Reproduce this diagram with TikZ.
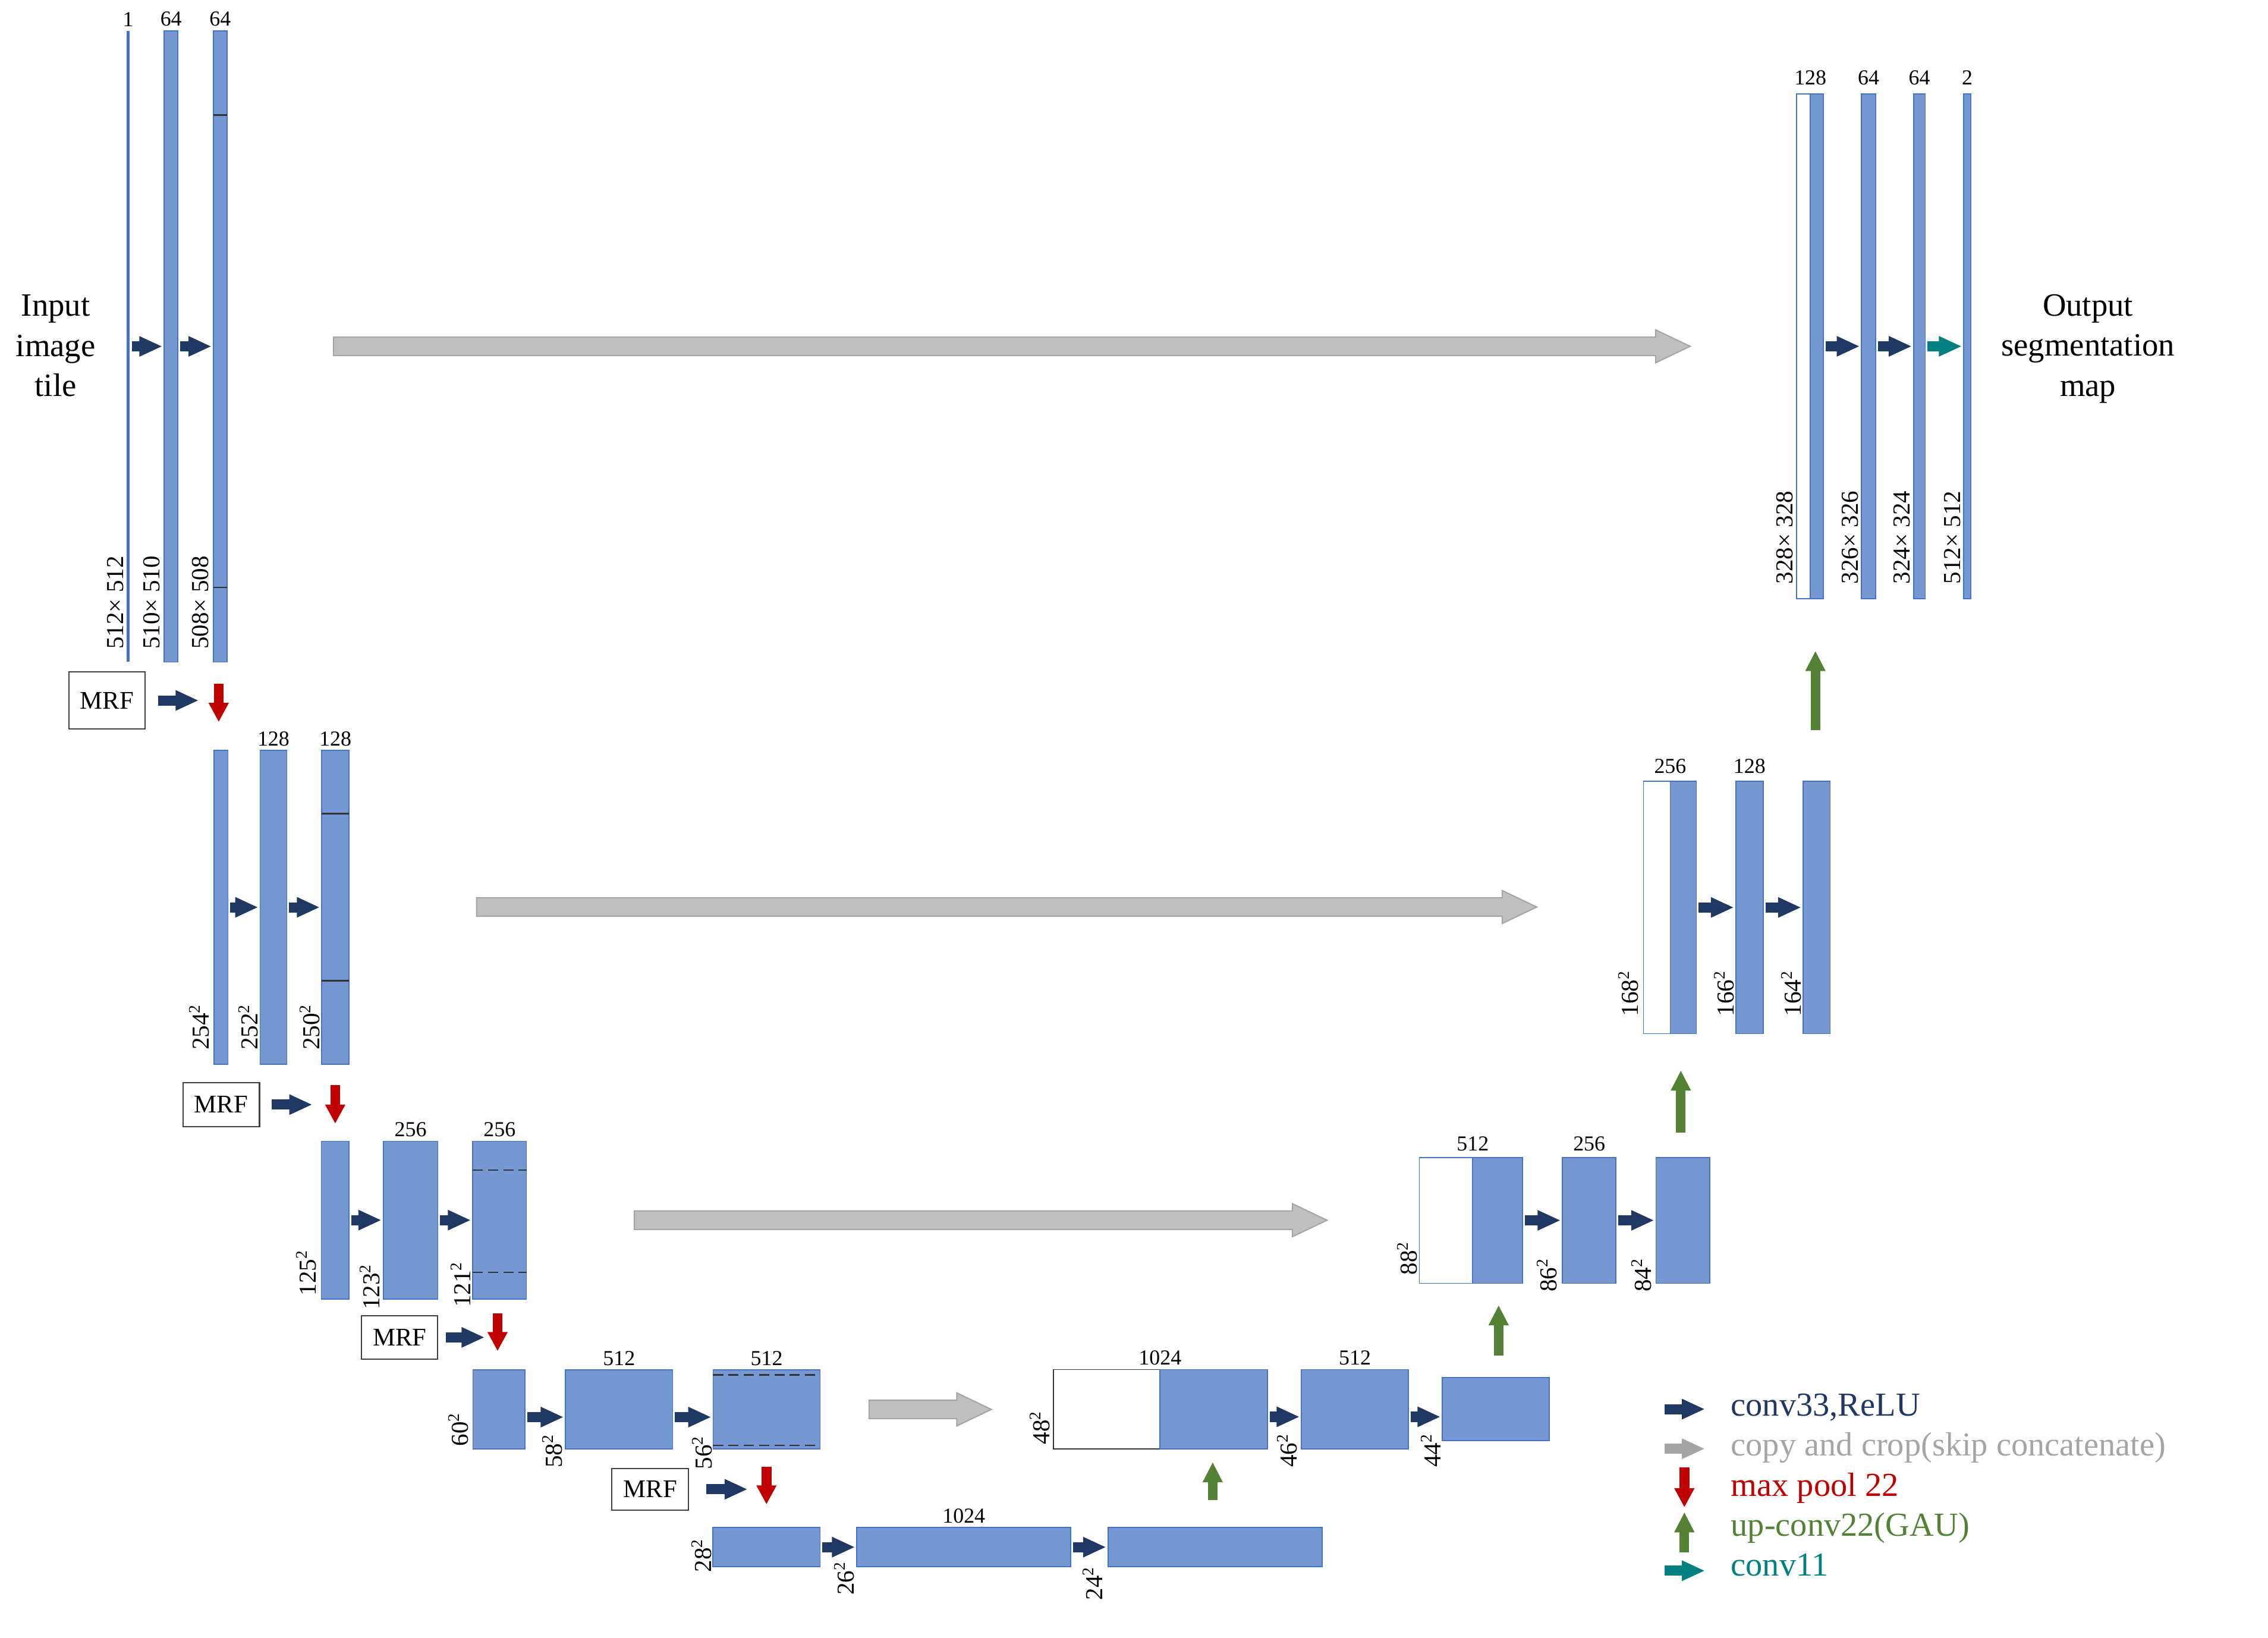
\documentclass[tikz,border=0pt]{standalone}
\usepackage{fontspec}
\setmainfont{Liberation Serif}
\usetikzlibrary{arrows.meta, fit, shapes.arrows, positioning}

\definecolor{barfill}{HTML}{7597D2}
\definecolor{barline}{HTML}{4472C4}
\definecolor{convblue}{HTML}{203864}
\definecolor{copyfill}{HTML}{BFBFBF}
\definecolor{copyline}{HTML}{A5A5A5}
\definecolor{poolred}{HTML}{C00000}
\definecolor{upgreen}{HTML}{548235}
\definecolor{convteal}{HTML}{008080}

\tikzset{
  fmap/.style={draw=barline, fill=barfill, line width=0.5pt, inner sep=0pt, outer sep=0pt},
  fcopy/.style={fmap, fill=white},
  inputline/.style={fill=barline, draw=none, inner sep=0pt, outer sep=0pt},
  mrfbox/.style={draw=black!75, fill=white, line width=0.6pt, inner sep=0pt,
    font=\fontsize{12.5}{15}\selectfont},
  conv/.style={draw=convblue, line width=1.75mm, -{Triangle[length=4mm, width=3.25mm]},
    shorten <=0.4mm, shorten >=0.3mm},
  conv11/.style={conv, draw=convteal},
  maxpool/.style={draw=poolred, line width=1.7mm, -{Triangle[length=3.3mm, width=3.25mm]}},
  upconv/.style={draw=upgreen, line width=1.65mm, -{Triangle[length=3.5mm, width=3.25mm]}},
  skiparrow/.style={single arrow, draw=copyline, fill=copyfill, line width=0.6pt,
    inner xsep=0pt, inner ysep=1.5mm, single arrow head extend=1.25mm,
    single arrow tip angle=51, anchor=west},
  cropline/.style={draw=black!80, line width=0.7pt},
  cropdash/.style={cropline, dash pattern=on 1.75mm off 0.9mm},
  toplabel/.style={font=\fontsize{10.5}{12}\selectfont, inner sep=0pt, anchor=south, yshift=0.7mm},
  dimlabel/.style={font=\fontsize{12}{14}\selectfont, inner sep=0pt, rotate=90, anchor=south west},
  bigtext/.style={font=\fontsize{16}{19.7}\selectfont, align=center, inner sep=0pt},
  legend/.style={font=\fontsize{16.5}{19}\selectfont, anchor=base west, inner sep=0pt}
}

\begin{document}
\begin{tikzpicture}[x=0.25mm, y=-0.25mm]
\useasboundingbox (0,0) rectangle (1568,1132);

% contracting path
\node[inputline, fit={(87.5,21.3) (89.8,457.6)}] (in) {};
\node[fmap, fit={(113.5,21.3) (123,457.6)}] (b11) {};
\node[fmap, fit={(147.5,21.3) (157,457.6)}] (b12) {};

\node[fmap, fit={(148,518.7) (157.6,735.7)}] (b21) {};
\node[fmap, fit={(179.8,518.7) (198.3,735.7)}] (b22) {};
\node[fmap, fit={(222.4,518.7) (241.3,735.7)}] (b23) {};

\node[fmap, fit={(222.2,788.9) (241.3,898)}] (b31) {};
\node[fmap, fit={(265,788.9) (302.7,898)}] (b32) {};
\node[fmap, fit={(326.8,788.9) (364,898)}] (b33) {};

\node[fmap, fit={(327,947) (363,1001.6)}] (b41) {};
\node[fmap, fit={(391,947) (465,1001.6)}] (b42) {};
\node[fmap, fit={(493,947) (567,1001.6)}] (b43) {};

% bottom
\node[fmap, fit={(492.8,1056) (567,1083)}] (b51) {};
\node[fmap, fit={(592.4,1056) (740.3,1083)}] (b52) {};
\node[fmap, fit={(766,1056) (914,1083)}] (b53) {};

% expanding path
\node[fcopy, draw=black!80, fit={(728.2,946.7) (802,1001.5)}] (r41w) {};
\node[fmap, fit={(802,946.7) (876.4,1001.5)}] (r41) {};
\node[fmap, fit={(899.8,946.7) (973.6,1001.5)}] (r42) {};
\node[fmap, fit={(997.2,952.2) (1071,996)}] (r43) {};

\node[fcopy, fit={(981.3,800.1) (1018.2,887.1)}] (r31w) {};
\node[fmap, fit={(1018.2,800.1) (1052.7,887.1)}] (r31) {};
\node[fmap, fit={(1080.2,800.1) (1117.2,887.1)}] (r32) {};
\node[fmap, fit={(1144.9,800.1) (1182,887.1)}] (r33) {};

\node[fcopy, fit={(1136.2,540.1) (1154.7,714.5)}] (r21w) {};
\node[fmap, fit={(1154.7,540.1) (1172.8,714.5)}] (r21) {};
\node[fmap, fit={(1200,540.1) (1219,714.5)}] (r22) {};
\node[fmap, fit={(1246.5,540.1) (1265.3,714.5)}] (r23) {};

\node[fcopy, fit={(1242,65) (1251.6,413.8)}] (r11w) {};
\node[fmap, fit={(1251.6,65) (1260.5,413.8)}] (r11) {};
\node[fmap, fit={(1287,65) (1296.7,413.8)}] (r12) {};
\node[fmap, fit={(1323,65) (1331,413.8)}] (r13) {};
\node[fmap, fit={(1357.6,65) (1362.5,413.8)}] (r14) {};

% crop marks
\draw[cropline] (147.5,79.5) -- (157,79.5) (147.5,406) -- (157,406);
\draw[cropline] (222.4,562.5) -- (241.3,562.5) (222.4,678) -- (241.3,678);
\draw[cropdash] (326.8,808.8) -- (364,808.8) (326.8,879.6) -- (364,879.6);
\draw[cropdash] (493,950.5) -- (567,950.5) (493,999.2) -- (567,999.2);

% channel numbers
\foreach \a/\t/\s [count=\i] in {in.north/1/0, b11.north/64/0, b12.north/64/0,
    b22.north/128/0, b23.north/128/0, b32.north/256/0, b33.north/256/0,
    b42.north/512/0, b43.north/512/0, b52.north/1024/0,
    r41w.north east/1024/0, r42.north/512/0,
    r31w.north east/512/0.3, r32.north/256/0.3,
    r21w.north east/256/0.55, r22.north/128/0.55,
    r11w.north east/128/0.8, r12.north/64/0.8, r13.north/64/0.8, r14.north/2/0.8}
  \node[toplabel, yshift=\s mm] (top\i) at (\a) {\t};

% sizes
\foreach \x/\y/\t [count=\i] in {85.6/449/512× 512, 111/449/510× 510, 144.6/449/508× 508,
    145/726/254\textsuperscript{2}, 178.8/726/252\textsuperscript{2}, 221.4/726/250\textsuperscript{2},
    219/896/125\textsuperscript{2}, 263/905.6/123\textsuperscript{2}, 325.7/904/121\textsuperscript{2},
    324/1000/60\textsuperscript{2}, 389/1015/58\textsuperscript{2}, 492.5/1016/56\textsuperscript{2},
    492.3/1087/28\textsuperscript{2}, 591/1103/26\textsuperscript{2}, 762.5/1106.4/24\textsuperscript{2},
    725.9/998.8/48\textsuperscript{2}, 897/1014.5/46\textsuperscript{2}, 996.5/1014.5/44\textsuperscript{2},
    980/881.6/88\textsuperscript{2}, 1076.8/893.3/86\textsuperscript{2}, 1142/893.3/84\textsuperscript{2},
    1133/702.8/168\textsuperscript{2}, 1199/702.8/166\textsuperscript{2}, 1245.4/702.8/164\textsuperscript{2},
    1240/404/328× 328, 1285/404/326× 326, 1321/404/324× 324, 1355.6/404/512× 512}
  \node[dimlabel] (dim\i) at (\x,\y) {\t};

% MRF
\node[mrfbox, minimum width=13.2mm, minimum height=9.9mm] (m1) at (74,484.2) {MRF};
\node[mrfbox, minimum width=13.25mm, minimum height=7.6mm] (m2) at (152.9,763.6) {MRF};
\node[mrfbox, minimum width=13.15mm, minimum height=7.5mm] (m3) at (276.3,924.5) {MRF};
\node[mrfbox, minimum width=13.25mm, minimum height=7.25mm] (m4) at (449.5,1029.5) {MRF};

% conv 3x3
\draw[conv] (in.east) -- (b11.west);
\draw[conv] (b11.east) -- (b12.west);
\draw[conv] (b21.east) -- (b22.west);
\draw[conv] (b22.east) -- (b23.west);
\draw[conv] (b31.east) -- (b32.west);
\draw[conv] (b32.east) -- (b33.west);
\draw[conv] ([yshift=-1.33mm]b41.east) -- ([yshift=-1.33mm]b42.west);
\draw[conv] ([yshift=-1.33mm]b42.east) -- ([yshift=-1.33mm]b43.west);
\draw[conv] (b51.east) -- (b52.west);
\draw[conv] (b52.east) -- (b53.west);
\draw[conv] ([yshift=-1.33mm]r41.east) -- ([yshift=-1.33mm]r42.west);
\draw[conv] ([yshift=-1.33mm]r42.east) -- ([yshift=-1.33mm]r43.west);
\draw[conv] (r31.east) -- (r32.west);
\draw[conv] (r32.east) -- (r33.west);
\draw[conv] (r21.east) -- (r22.west);
\draw[conv] (r22.east) -- (r23.west);
\draw[conv] (r11.east) -- (r12.west);
\draw[conv] (r12.east) -- (r13.west);
\draw[conv11] (r13.east) -- (r14.west);

% MRF into pooling
\draw[conv] ([xshift=1.7mm]m1.east) -- ++(31,0);
\draw[conv] ([xshift=1.6mm]m2.east) -- ++(31,0);
\draw[conv] ([xshift=0.95mm]m3.east) -- ++(29.5,0);
\draw[conv] ([xshift=2.6mm]m4.east) -- ++(31.3,0);

% max pool
\draw[maxpool] ([xshift=-0.4mm,yshift=11.5mm]b21.north) -- ++(0,26.4);
\draw[maxpool] ([yshift=9.7mm]b31.north) -- ++(0,26.7);
\draw[maxpool] ([xshift=-0.25mm,yshift=9.75mm]b41.north) -- ++(0,26);
\draw[maxpool] ([yshift=10.5mm]b51.north) -- ++(0,26);

% up-conv
\draw[upconv] ([xshift=-0.4mm,yshift=4.75mm]b53.north) -- ++(0,-26.3);
\draw[upconv] ([xshift=0.5mm,yshift=3.8mm]r43.north) -- ++(0,-34.8);
\draw[upconv] ([xshift=-0.35mm,yshift=4.3mm]r33.north) -- ++(0,-43);
\draw[upconv] ([xshift=-0.2mm,yshift=8.8mm]r23.north) -- ++(0,-55);

% copy and crop
\node[skiparrow, minimum height=234.5mm] (s1) at (230,239.4) {};
\node[skiparrow, minimum height=183.25mm] (s2) at (329,627) {};
\node[skiparrow, minimum height=119.75mm] (s3) at (438,843.5) {};
\node[skiparrow, minimum height=21.15mm] (s4) at (600.4,974.3) {};

% texts
\node[bigtext] (intext) at (38.5,239) {Input\\image\\tile};
\node[bigtext] (outtext) at (1443.5,241) {Output\\segmentation\\map};

% legend
\draw[conv] (1149.1,974.1) -- (1180,974.1);
\draw[conv, draw=copyline] (1149.1,1001.5) -- (1180,1001.5);
\draw[maxpool] (1164.5,1014.5) -- (1164.5,1042);
\draw[upconv] (1164.5,1073) -- (1164.5,1045.3);
\draw[conv11] (1149.1,1085.8) -- (1180,1085.8);
\node[legend, text=convblue] (lg1) at (1196.4,978.9) {conv33,ReLU};
\node[legend, text=copyline] (lg2) at (1196.4,1006.3) {copy and crop(skip concatenate)};
\node[legend, text=poolred] (lg3) at (1196.4,1034.4) {max pool 22};
\node[legend, text=upgreen] (lg4) at (1196.4,1061.8) {up-conv22(GAU)};
\node[legend, text=convteal] (lg5) at (1196.4,1089.3) {conv11};
\end{tikzpicture}
\end{document}
